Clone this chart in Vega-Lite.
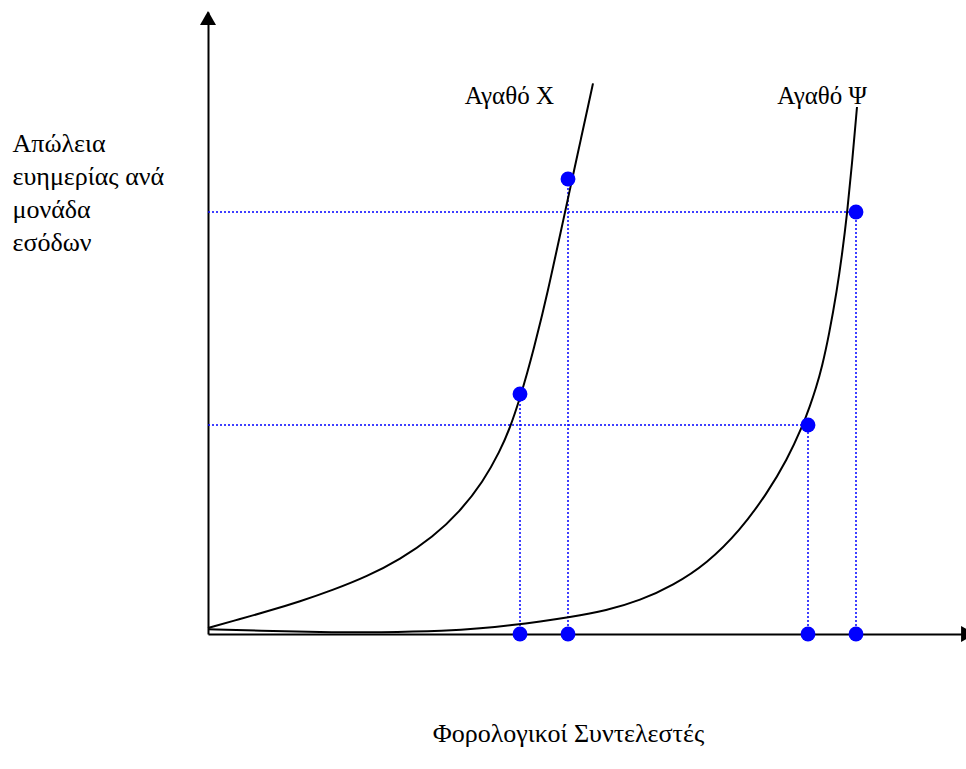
{
  "$schema": "https://vega.github.io/schema/vega-lite/v6.json",
  "width": 758,
  "height": 622,
  "autosize": {"type": "none"},
  "padding": {"left": 208, "top": 12, "right": 0, "bottom": 135},
  "background": "white",
  "config": {
    "view": {"stroke": null},
    "font": "Liberation Serif",
    "text": {"font": "Liberation Serif"}
  },
  "datasets": {
    "curves": [
      {"curve": "X", "x": 0, "y": 6},
      {"curve": "X", "x": 32, "y": 15},
      {"curve": "X", "x": 59, "y": 22.5},
      {"curve": "X", "x": 92, "y": 32.5},
      {"curve": "X", "x": 125, "y": 44},
      {"curve": "X", "x": 159, "y": 57.5},
      {"curve": "X", "x": 192, "y": 74.5},
      {"curve": "X", "x": 225, "y": 97},
      {"curve": "X", "x": 252, "y": 122.5},
      {"curve": "X", "x": 275, "y": 152},
      {"curve": "X", "x": 292, "y": 183},
      {"curve": "X", "x": 302, "y": 206},
      {"curve": "X", "x": 312, "y": 236},
      {"curve": "X", "x": 319, "y": 260.1},
      {"curve": "X", "x": 326, "y": 286.1},
      {"curve": "X", "x": 333, "y": 314.1},
      {"curve": "X", "x": 340, "y": 344.1},
      {"curve": "X", "x": 345, "y": 366.6},
      {"curve": "X", "x": 352, "y": 398.8},
      {"curve": "X", "x": 359, "y": 431},
      {"curve": "X", "x": 366, "y": 463.2},
      {"curve": "X", "x": 373, "y": 495.4},
      {"curve": "X", "x": 380, "y": 527.6},
      {"curve": "X", "x": 385, "y": 550.6},
      {"curve": "Y", "x": 0, "y": 4.7},
      {"curve": "Y", "x": 52, "y": 3.2},
      {"curve": "Y", "x": 112, "y": 2},
      {"curve": "Y", "x": 172, "y": 1.5},
      {"curve": "Y", "x": 239, "y": 3},
      {"curve": "Y", "x": 272, "y": 5.5},
      {"curve": "Y", "x": 305, "y": 9},
      {"curve": "Y", "x": 332, "y": 12.5},
      {"curve": "Y", "x": 360, "y": 16.5},
      {"curve": "Y", "x": 399, "y": 23.5},
      {"curve": "Y", "x": 432, "y": 33.5},
      {"curve": "Y", "x": 465, "y": 48.5},
      {"curve": "Y", "x": 499, "y": 70.5},
      {"curve": "Y", "x": 532, "y": 103.5},
      {"curve": "Y", "x": 559, "y": 140.5},
      {"curve": "Y", "x": 579, "y": 174},
      {"curve": "Y", "x": 595, "y": 209},
      {"curve": "Y", "x": 602, "y": 228},
      {"curve": "Y", "x": 608, "y": 246},
      {"curve": "Y", "x": 614, "y": 267},
      {"curve": "Y", "x": 621, "y": 299},
      {"curve": "Y", "x": 629, "y": 344},
      {"curve": "Y", "x": 634, "y": 379},
      {"curve": "Y", "x": 639, "y": 419},
      {"curve": "Y", "x": 644, "y": 470},
      {"curve": "Y", "x": 649, "y": 527}
    ],
    "guides": [
      {"x": 0, "y": 422, "x2": 648, "y2": 422},
      {"x": 0, "y": 209, "x2": 600, "y2": 209},
      {"x": 312, "y": 0, "x2": 312, "y2": 240},
      {"x": 360, "y": 0, "x2": 360, "y2": 455},
      {"x": 600, "y": 0, "x2": 600, "y2": 209},
      {"x": 648, "y": 0, "x2": 648, "y2": 422}
    ],
    "points": [
      {"x": 312, "y": 240},
      {"x": 360, "y": 455},
      {"x": 600, "y": 209},
      {"x": 648, "y": 422},
      {"x": 312, "y": 0},
      {"x": 360, "y": 0},
      {"x": 600, "y": 0},
      {"x": 648, "y": 0}
    ],
    "labels": [
      {"x": 346, "y": 530.5, "label": "Αγαθό Χ"},
      {"x": 659, "y": 530.5, "label": "Αγαθό Ψ"}
    ]
  },
  "encoding": {
    "x": {
      "field": "x", "type": "quantitative",
      "scale": {"domain": [0, 758], "nice": false, "zero": false},
      "axis": {
        "domainColor": "black", "domainWidth": 2, "ticks": false, "labels": false, "grid": false,
        "title": "Φορολογικοί Συντελεστές",
        "titleFont": "Liberation Serif", "titleFontSize": 26, "titleFontWeight": "normal", "titleColor": "black",
        "titleAnchor": null, "titleAlign": "center", "titleBaseline": "alphabetic",
        "titleX": 360, "titleY": 107
      }
    },
    "y": {
      "field": "y", "type": "quantitative",
      "scale": {"domain": [0, 622], "nice": false, "zero": false},
      "axis": {
        "domainColor": "black", "domainWidth": 2, "ticks": false, "labels": false, "grid": false,
        "title": ["Απώλεια", "ευημερίας ανά", "μονάδα", "εσόδων"],
        "titleFont": "Liberation Serif", "titleFontSize": 26, "titleFontWeight": "normal", "titleColor": "black",
        "titleAngle": 0, "titleAnchor": null, "titleAlign": "left", "titleBaseline": "alphabetic",
        "titleLineHeight": 33.3,
        "titleX": -196, "titleY": 139
      }
    }
  },
  "layer": [
    {
      "data": {"name": "guides"},
      "mark": {"type": "rule", "color": "#0000ff", "strokeWidth": 1.5, "strokeDash": [2, 2]},
      "encoding": {
        "x2": {"field": "x2"},
        "y2": {"field": "y2"}
      }
    },
    {
      "data": {"name": "curves"},
      "mark": {"type": "line", "color": "black", "strokeWidth": 2, "interpolate": "basis"},
      "encoding": {
        "detail": {"field": "curve"}
      }
    },
    {
      "data": {"name": "points"},
      "mark": {"type": "point", "shape": "circle", "filled": true, "color": "#0000ff", "opacity": 1, "size": 220, "strokeWidth": 0}
    },
    {
      "data": {"values": [{"x": 0, "y": 616}]},
      "mark": {"type": "point", "shape": "triangle-up", "filled": true, "color": "black", "opacity": 1, "size": 256, "strokeWidth": 0}
    },
    {
      "data": {"values": [{"x": 760, "y": 0}]},
      "mark": {"type": "point", "shape": "triangle-right", "filled": true, "color": "black", "opacity": 1, "size": 256, "strokeWidth": 0}
    },
    {
      "data": {"name": "labels"},
      "mark": {"type": "text", "font": "Liberation Serif", "fontSize": 25, "color": "black", "align": "right", "baseline": "alphabetic"},
      "encoding": {
        "text": {"field": "label"}
      }
    }
  ]
}
